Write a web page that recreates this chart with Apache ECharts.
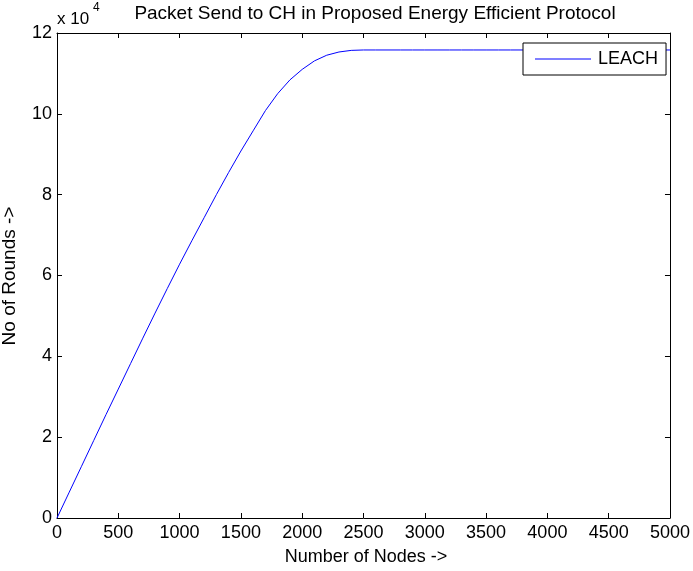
<!DOCTYPE html>
<html>
<head>
<meta charset="utf-8">
<script src="https://cdn.jsdelivr.net/npm/echarts@6/dist/echarts.min.js"></script>
<style>
  html, body { margin: 0; padding: 0; background: #fff; }
  #chart { width: 693px; height: 571px; }
</style>
</head>
<body>
<div id="chart"></div>
<script>
// Number of nodes (x) and rounds (y) for the LEACH curve
const nodes = [0, 100, 200, 300, 400, 500, 600, 700, 800, 900,
  1000, 1100, 1200, 1300, 1400, 1500, 1600, 1700, 1800, 1900,
  2000, 2100, 2200, 2300, 2400, 2500, 2600, 2700, 2800, 2900,
  3000, 3100, 3200, 3300, 3400, 3500, 3600, 3700, 3800, 3900,
  4000, 4100, 4200, 4300, 4400, 4500, 4600, 4700, 4800, 4900, 5000];
const rounds = [0, 6400, 12800, 19200, 25600, 31900, 38200, 44500, 50700, 56800,
  62800, 68600, 74300, 80000, 85500, 90800, 95800, 100800, 105000, 108400,
  111000, 113100, 114500, 115300, 115700, 115800, 115800, 115800, 115800, 115800,
  115800, 115800, 115800, 115800, 115800, 115800, 115800, 115800, 115800, 115800,
  115800, 115800, 115800, 115800, 115800, 115800, 115800, 115800, 115800, 115800, 115800];
const seriesName = 'LEACH';
const xTicks = { min: 0, max: 5000, step: 500 };
const yTicks = { min: 0, max: 120000, step: 20000 };
const yScale = 10000;

const FONT = 'Liberation Sans, Arial, sans-serif';
const chart = echarts.init(document.getElementById('chart'), null, { renderer: 'canvas' });

// fresh style objects per axis so each one keeps its own settings
const tick = () => ({ show: true, inside: true, length: 5, lineStyle: { color: '#000', width: 1 } });
const axLine = () => ({ show: true, onZero: false, lineStyle: { color: '#000', width: 1 } });

chart.setOption({
  animation: false,
  backgroundColor: '#fff',
  grid: { left: 57, top: 33, width: 620, height: 485, containLabel: false },
  xAxis: [
    {
      type: 'value', position: 'bottom', min: xTicks.min, max: xTicks.max, interval: xTicks.step,
      axisLine: axLine(), axisTick: tick(), splitLine: { show: false },
      axisLabel: { color: '#000', fontSize: 18, fontFamily: FONT, margin: 6,
        formatter: v => String(v) }
    },
    {
      type: 'value', position: 'top', min: xTicks.min, max: xTicks.max, interval: xTicks.step,
      axisLine: axLine(), axisTick: tick(), splitLine: { show: false },
      axisLabel: { show: false }
    }
  ],
  yAxis: [
    {
      type: 'value', position: 'left', min: yTicks.min, max: yTicks.max, interval: yTicks.step,
      axisLine: axLine(), axisTick: tick(), splitLine: { show: false },
      axisLabel: { color: '#000', fontSize: 18, fontFamily: FONT, margin: 5,
        formatter: v => String(v / yScale) }
    },
    {
      type: 'value', position: 'right', min: yTicks.min, max: yTicks.max, interval: yTicks.step,
      axisLine: axLine(), axisTick: tick(), splitLine: { show: false },
      axisLabel: { show: false }
    }
  ],
  legend: {
    data: [{ name: seriesName, icon: 'rect' }],
    left: 523, top: 43,
    itemWidth: 56, itemHeight: 1, itemGap: 0,
    padding: [7, 8, 7, 12],
    backgroundColor: '#fff', borderColor: '#000', borderWidth: 1, borderRadius: 0,
    textStyle: { color: '#000', fontSize: 18, fontFamily: FONT, padding: [0, 0, 0, 2] }
  },
  graphic: [
    { type: 'text', x: 375, y: 14, style: { text: 'Packet Send to CH in Proposed Energy Efficient Protocol',
        fill: '#000', font: '19px ' + FONT, textAlign: 'center', textVerticalAlign: 'middle' } },
    { type: 'text', x: 57, y: 19, style: { text: 'x 10', fill: '#000', font: '17px ' + FONT,
        textAlign: 'left', textVerticalAlign: 'middle' } },
    { type: 'text', x: 93, y: 8, style: { text: '4', fill: '#000', font: '12px ' + FONT,
        textAlign: 'left', textVerticalAlign: 'middle' } },
    { type: 'text', x: 366, y: 557, style: { text: 'Number of Nodes ->', fill: '#000', font: '18px ' + FONT,
        textAlign: 'center', textVerticalAlign: 'middle' } },
    { type: 'text', x: 10, y: 276, rotation: Math.PI / 2, style: { text: 'No of Rounds ->', fill: '#000',
        font: '19px ' + FONT, textAlign: 'center', textVerticalAlign: 'middle' } }
  ],
  series: [{
    name: seriesName,
    type: 'line',
    xAxisIndex: 0, yAxisIndex: 0,
    data: nodes.map((n, i) => [n, rounds[i]]),
    showSymbol: false, symbol: 'none',
    lineStyle: { color: '#0000ff', width: 1 },
    itemStyle: { color: '#0000ff' },
    z: 1
  }]
});
</script>
</body>
</html>
